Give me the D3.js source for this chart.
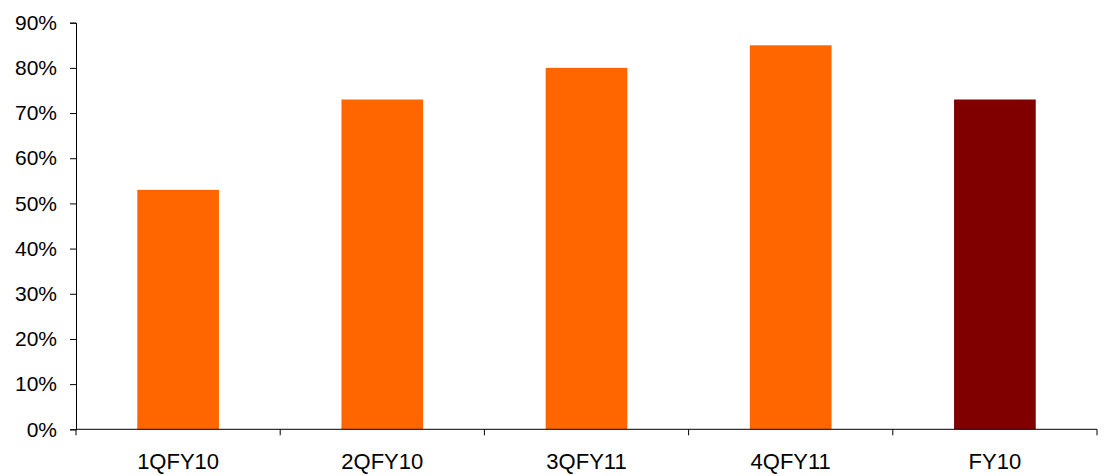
<!DOCTYPE html>
<html><head><meta charset="utf-8">
<script src="https://cdn.jsdelivr.net/npm/d3@7"></script>
<style>body{margin:0;background:#fff}svg{display:block}text{font-family:"Liberation Sans",Arial,sans-serif}</style>
</head><body><svg id="c" width="1105" height="476"></svg>
<script>
const categories = ["1QFY10","2QFY10","3QFY11","4QFY11","FY10"];
const values = [53, 73, 80, 85, 73];
const barColors = ["#FF6600","#FF6600","#FF6600","#FF6600","#800000"];
const yTicks = [0,10,20,30,40,50,60,70,80,90];

const svg = d3.select("#c");
const x0 = 76, x1 = 1097, yTop = 22.7, yBot = 429.3;
const x = d3.scaleBand().domain(categories).range([x0, x1]).paddingInner(0.6).paddingOuter(0.3);
const xb = d3.scaleBand().domain(categories).range([x0, x1]).padding(0);
const y = d3.scaleLinear().domain([0, 90]).range([yBot, yTop]);

svg.selectAll("rect.bar").data(values).join("rect")
  .attr("class","bar")
  .attr("x",(d,i)=>x(categories[i]))
  .attr("width",x.bandwidth())
  .attr("y",d=>y(d))
  .attr("height",d=>y(0)-y(d))
  .attr("fill",(d,i)=>barColors[i]);

// Y axis
const ya = svg.append("g").attr("transform",`translate(${x0},0)`)
  .call(d3.axisLeft(y).tickValues(yTicks).tickFormat(d=>d+"%").tickSizeOuter(0).tickSize(6).tickPadding(13));
ya.select(".domain").attr("stroke","#000");
ya.selectAll("text").attr("font-size","21px").attr("fill","#000").attr("font-family","Liberation Sans, Arial, sans-serif");

// X axis line
svg.append("line").attr("x1",x0).attr("x2",x1).attr("y1",y(0)).attr("y2",y(0)).attr("stroke","#000");
const bounds = categories.map(c=>xb(c)).concat([x1]);
svg.selectAll("line.xt").data(bounds).join("line").attr("class","xt")
  .attr("x1",d=>d).attr("x2",d=>d).attr("y1",y(0)).attr("y2",y(0)+6).attr("stroke","#000");
svg.selectAll("text.xl").data(categories).join("text").attr("class","xl")
  .attr("x",d=>xb(d)+xb.bandwidth()/2).attr("y",y(0)+40)
  .attr("text-anchor","middle").attr("font-size","22px").attr("fill","#000").text(d=>d);
</script></body></html>
